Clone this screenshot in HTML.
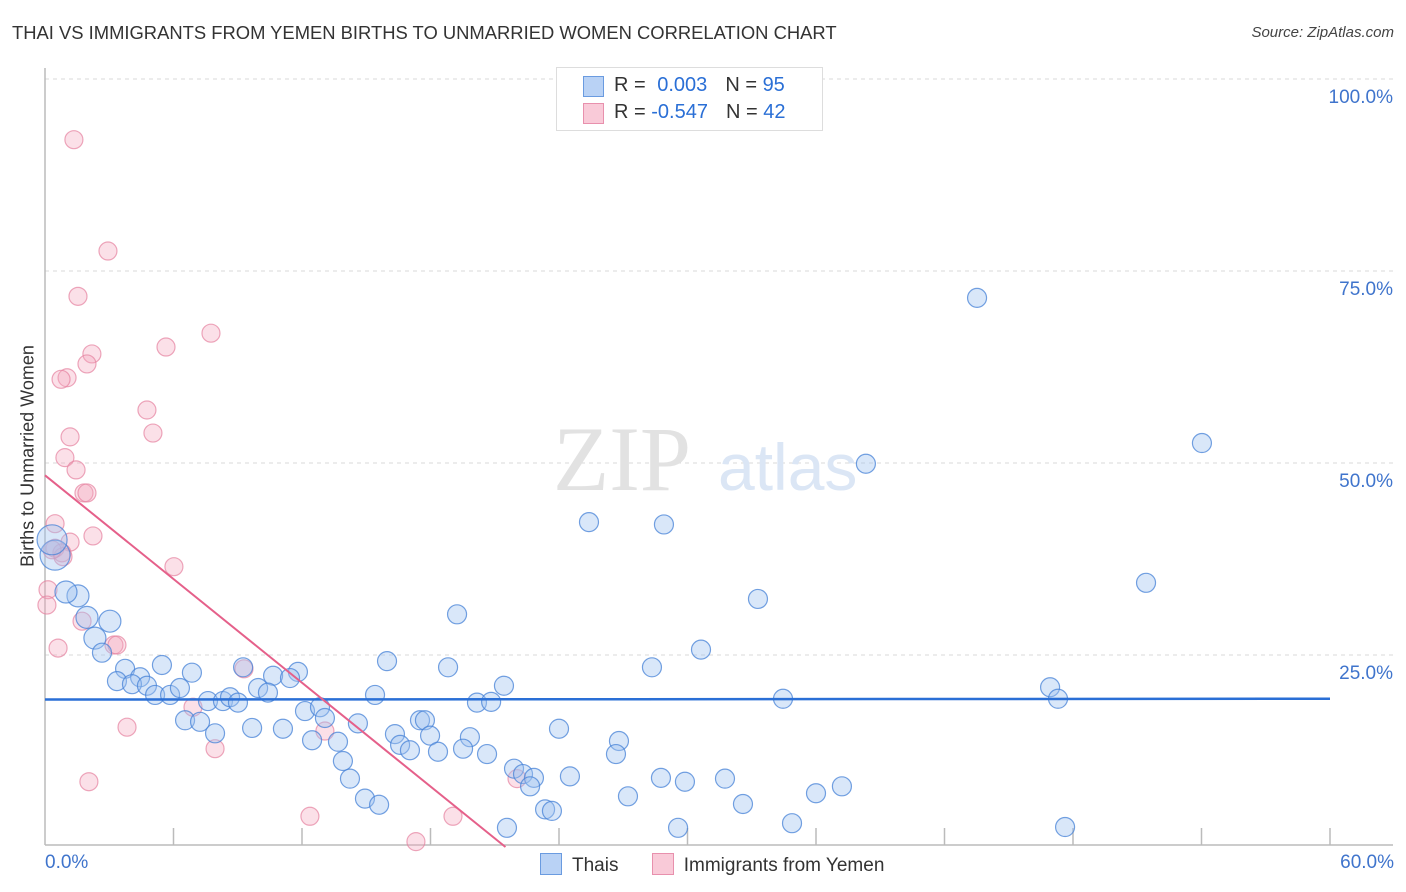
<!DOCTYPE html>
<html><head><meta charset="utf-8"><style>
body{margin:0;background:#fff;font-family:"Liberation Sans",sans-serif;}
#wrap{position:relative;width:1406px;height:892px;overflow:hidden;}
</style></head><body>
<div id="wrap">
<svg id="svg" width="1406" height="892" xmlns="http://www.w3.org/2000/svg"></svg>
</div>
<script>
const blueX=[43.52,54.02,38.33,25.40,28.90,51.41,33.29,19.24,3.03,1.96,1.54,0.98,0.47,0.33,2.33,2.66,30.63,28.34,15.97,18.82,5.46,6.86,9.25,3.74,4.44,3.36,4.06,4.76,5.14,5.84,6.30,10.65,11.81,11.44,7.61,8.31,8.64,9.01,9.95,10.41,15.41,21.43,20.17,20.83,46.93,47.30,34.46,12.14,12.84,13.07,6.54,7.24,7.94,9.67,11.11,14.61,16.34,17.51,17.74,17.98,19.84,16.58,17.04,18.35,19.52,20.64,12.47,13.68,24.00,26.80,26.66,13.91,14.24,14.94,15.60,21.90,22.32,22.83,22.65,24.51,28.76,29.88,31.75,27.22,32.59,36.00,37.21,23.35,23.67,21.57,29.56,34.88,47.63];
const blueY=[71.5,52.6,49.9,42.3,42.0,34.4,32.3,30.3,29.4,29.9,32.7,33.2,38.0,40.0,27.2,25.3,25.7,23.4,24.2,23.4,23.7,22.7,23.4,23.2,22.1,21.6,21.2,21.0,19.8,19.8,20.7,22.3,22.8,22.0,19.0,19.0,19.5,18.8,20.7,20.1,19.8,21.0,18.8,18.9,20.8,19.3,19.3,17.7,18.2,16.8,16.5,16.3,14.8,15.5,15.4,16.1,14.7,16.5,16.5,14.5,14.3,13.3,12.6,12.4,12.8,12.1,13.9,13.7,15.4,13.8,12.1,11.2,8.9,6.3,5.5,10.2,9.5,9.0,7.9,9.2,9.0,8.5,8.9,6.6,5.6,7.0,7.9,4.9,4.7,2.5,2.5,3.1,2.6];
const pinkX=[1.35,2.94,1.54,7.75,5.65,2.19,1.96,1.03,0.75,4.76,5.04,1.17,0.93,1.45,1.82,1.96,0.47,2.24,1.17,0.47,0.79,6.02,0.14,0.09,1.73,0.61,3.22,3.36,9.29,3.83,6.91,7.94,13.07,22.04,2.05,12.37,19.05,17.32,0.84,0.33];
const pinkY=[92.1,77.6,71.7,66.9,65.1,64.2,62.9,61.1,60.9,56.9,53.9,53.4,50.7,49.1,46.1,46.1,42.1,40.5,39.7,38.9,38.3,36.5,33.5,31.5,29.4,25.9,26.3,26.3,23.2,15.6,18.2,12.8,15.1,8.9,8.5,4.0,4.0,0.7,37.8,38.7];
const blueTrend=[19.2,19.3];
const pinkTrend=[48.4,0];
const pinkTrendEnd=21.5;
const yTicks=[25,50,75,100];
const yTickLabels=["25.0%","50.0%","75.0%","100.0%"];

const NS="http://www.w3.org/2000/svg";
const svg=document.getElementById('svg');
const X=v=>45+v/60*1285;
const Y=v=>847-v/100*768;
function mk(tag,attrs,parent){const e=document.createElementNS(NS,tag);for(const k in attrs)e.setAttribute(k,attrs[k]);(parent||svg).appendChild(e);return e;}

yTicks.forEach((t,i)=>{
  const g=mk('line',{x1:45,x2:1393,y1:Y(t),y2:Y(t),stroke:'#d8d8d8','stroke-dasharray':'4,4'});
  
  
  const tx=mk('text',{x:1393,y:Y(t)+24,'text-anchor':'end','font-size':19,fill:'#3f74cc'});
  tx.textContent=yTickLabels[i];
  
  
});
let a=mk('line',{x1:45,x2:45,y1:68,y2:845,stroke:'#bbb','stroke-width':1.5});

a=mk('line',{x1:45,x2:1393,y1:845,y2:845,stroke:'#bbb','stroke-width':1.5});

for(let i=1;i<=10;i++){
  const t=mk('line',{x1:X(i*6),x2:X(i*6),y1:828,y2:845,stroke:'#bbb','stroke-width':1.5});
  
  
}
let w=mk('text',{x:553,y:490,'font-size':92,'font-family':'Liberation Serif,serif',fill:'#e2e2e2'});w.textContent='ZIP';

w=mk('text',{x:718,y:490,'font-size':66,fill:'#dbe6f5'});w.textContent='atlas';


pinkX.forEach((x,i)=>{
  const c=mk('circle',{cx:X(x),cy:Y(pinkY[i]),r:9,fill:'rgba(244,167,190,0.35)',stroke:'rgba(230,130,160,0.7)','stroke-width':1.2});
  
  
});
blueX.forEach((x,i)=>{
  const r=(x<1.2&&blueY[i]>35)?15:(x<3.2&&blueY[i]>26?11:9.5);
  const c=mk('circle',{cx:X(x),cy:Y(blueY[i]),r:r,fill:'rgba(160,195,240,0.4)',stroke:'rgba(70,130,215,0.75)','stroke-width':1.2});
  
  
});
let l=mk('line',{x1:X(0),x2:X(60),y1:Y(blueTrend[0]),y2:Y(blueTrend[1]),stroke:'#2a6fd6','stroke-width':2.5});

l=mk('line',{x1:X(0),x2:X(pinkTrendEnd),y1:Y(pinkTrend[0]),y2:Y(pinkTrend[1]),stroke:'#e5608a','stroke-width':2});

</script>
<div style="position:absolute;left:12px;top:22px;font-size:18.4px;color:#333">THAI VS IMMIGRANTS FROM YEMEN BIRTHS TO UNMARRIED WOMEN CORRELATION CHART</div>
<div style="position:absolute;right:12px;top:24px;font-size:15px;color:#444;font-style:italic">Source: ZipAtlas.com</div>
<div style="position:absolute;left:28px;top:456px;transform:translate(-50%,-50%) rotate(-90deg);font-size:18px;color:#333;white-space:nowrap">Births to Unmarried Women</div>
<div style="position:absolute;left:45px;top:852px;font-size:19px;color:#3f74cc">0.0%</div>
<div style="position:absolute;right:12px;top:852px;font-size:19px;color:#3f74cc">60.0%</div>
<div style="position:absolute;left:556px;top:67px;width:265px;height:62px;border:1px solid #ddd;background:#fff;font-size:20px;color:#333">
 <div style="position:absolute;left:26px;top:8px;width:19px;height:19px;background:#b9d2f5;border:1px solid #6a9be0"></div>
 <div style="position:absolute;left:57px;top:6px">R = <span style="color:#2a6fd6;margin-left:6px">0.003</span><span style="margin-left:18px">N = </span><span style="color:#2a6fd6">95</span></div>
 <div style="position:absolute;left:26px;top:35px;width:19px;height:19px;background:#f9cad8;border:1px solid #e890ad"></div>
 <div style="position:absolute;left:57px;top:33px">R = <span style="color:#2a6fd6">-0.547</span><span style="margin-left:18px">N = </span><span style="color:#2a6fd6">42</span></div>
</div>
<div style="position:absolute;left:540px;top:853px;font-size:19px;color:#333;white-space:nowrap">
 <span><span style="display:inline-block;width:20px;height:20px;background:#b9d2f5;border:1px solid #6a9be0;vertical-align:-4px;margin-right:10px"></span>Thais</span>
 <span style="margin-left:28px"><span style="display:inline-block;width:20px;height:20px;background:#f9cad8;border:1px solid #e890ad;vertical-align:-4px;margin-right:10px"></span>Immigrants from Yemen</span>
</div>
</body></html>
